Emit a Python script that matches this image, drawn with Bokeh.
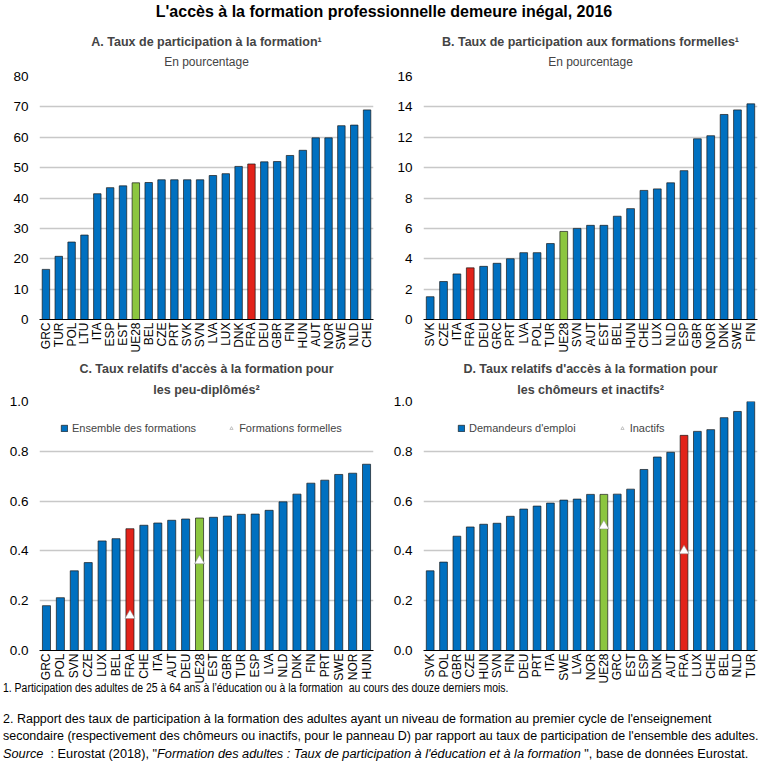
from bokeh.plotting import figure
from bokeh.models import Title, Div, Legend, LegendItem, NumeralTickFormatter, FixedTicker, ColumnDataSource
from bokeh.layouts import column, row
from bokeh.embed import file_html
from bokeh.resources import INLINE
import numpy as np

# ---------------- data ----------------
a_countries = ["GRC", "TUR", "POL", "LTU", "ITA", "ESP", "EST", "UE28", "BEL", "CZE", "PRT", "SVK", "SVN",
               "LVA", "LUX", "DNK", "FRA", "DEU", "GBR", "FIN", "HUN", "AUT", "NOR", "SWE", "NLD", "CHE"]
a_values = [16.5, 20.8, 25.5, 27.8, 41.4, 43.4, 44.0, 45.0, 45.1, 46.0, 46.0, 46.0, 46.0,
            47.4, 48.0, 50.4, 51.2, 51.9, 52.0, 54.0, 55.7, 59.8, 59.8, 63.8, 64.0, 69.0]

b_countries = ["SVK", "CZE", "ITA", "FRA", "DEU", "GRC", "PRT", "LVA", "POL", "TUR", "UE28", "SVN", "AUT",
               "EST", "BEL", "HUN", "CHE", "LUX", "NLD", "ESP", "GBR", "NOR", "DNK", "SWE", "FIN"]
b_values = [1.5, 2.5, 3.0, 3.4, 3.5, 3.7, 4.0, 4.4, 4.4, 5.0, 5.8, 6.0, 6.2,
            6.2, 6.8, 7.3, 8.5, 8.6, 9.0, 9.8, 11.9, 12.1, 13.5, 13.8, 14.2]

c_countries = ["GRC", "POL", "SVN", "CZE", "LUX", "BEL", "FRA", "CHE", "ITA", "AUT", "DEU", "UE28",
               "EST", "GBR", "TUR", "ESP", "LVA", "NLD", "DNK", "FIN", "PRT", "SWE", "NOR", "HUN"]
c_all = [0.180, 0.212, 0.320, 0.353, 0.440, 0.449, 0.489, 0.503, 0.512, 0.523, 0.528, 0.532,
         0.535, 0.540, 0.547, 0.548, 0.563, 0.597, 0.628, 0.672, 0.684, 0.707, 0.712, 0.748]
c_formal = [None, None, None, None, None, None, 0.14, None, None, None, None, 0.36,
            None, None, None, None, None, None, None, None, None, None, None, None]

d_countries = ["SVK", "POL", "GBR", "CZE", "HUN", "SVN", "FIN", "DEU", "PRT", "ITA", "SWE", "LVA", "NOR",
               "UE28", "GRC", "EST", "ESP", "DNK", "AUT", "FRA", "LUX", "CHE", "BEL", "NLD", "TUR"]
d_jobseekers = [0.320, 0.355, 0.459, 0.496, 0.507, 0.511, 0.539, 0.568, 0.580, 0.592, 0.604, 0.608, 0.627,
                0.627, 0.628, 0.648, 0.727, 0.777, 0.796, 0.864, 0.880, 0.887, 0.935, 0.960, 1.000]
d_inactive = [None, None, None, None, None, None, None, None, None, None, None, None, None,
              0.50, None, None, None, None, None, 0.40, None, None, None, None, None]

main_title = "L'accès à la formation professionnelle demeure inégal, 2016"
titles = {
    "A": ["A. Taux de participation à la formation¹", "En pourcentage"],
    "B": ["B. Taux de participation aux formations formelles¹", "En pourcentage"],
    "C": ["C. Taux relatifs d'accès à la formation pour", "les peu-diplômés²"],
    "D": ["D. Taux relatifs d'accès à la formation pour", "les chômeurs et inactifs²"],
}
notes_lines = [
    "1. Participation des adultes de 25 à 64 ans à l’éducation ou à la formation &nbsp;au cours des douze derniers mois.",
    "2. Rapport des taux de participation à la formation des adultes ayant un niveau de formation au premier cycle de l'enseignement",
    "secondaire (respectivement des chômeurs ou inactifs, pour le panneau D) par rapport au taux de participation de l'ensemble des adultes.",
    "<i>Source</i> &nbsp;: Eurostat (2018), \"<i>Formation des adultes : Taux de participation à l'éducation et à la formation</i> \", base de données Eurostat.",
]

# ---------------- style ----------------
FONT = "Liberation Sans"
BLUE = "#0070C0"
RED = "#E2231A"
GREEN = "#8CC63F"
GRID = "#C8C8C8"


def colors_for(cats):
    return [RED if c == "FRA" else GREEN if c == "UE28" else BLUE for c in cats]


def make_panel(cats, vals, ymax, step, fmt, title_lines, subtitle, w, h, left, right, top, bottom,
               tri=None, legend_labels=None, legend_x=0, legend_spacing=30):
    p = figure(x_range=cats, y_range=(0, ymax), width=w, height=h, output_backend="svg",
               toolbar_location=None, min_border_left=left, min_border_right=right,
               min_border_top=top, min_border_bottom=bottom)
    p.outline_line_color = None
    p.background_fill_color = "white"
    src = ColumnDataSource(dict(x=cats, top=vals, color=colors_for(cats)))
    bars = p.vbar(x="x", top="top", width=0.58, source=src, fill_color="color",
                  line_color="#1a1a1a", line_width=0.7)
    tri_r = None
    if tri is not None:
        tv = [np.nan if v is None else v for v in tri]
        tsrc = ColumnDataSource(dict(x=cats, y=tv))
        tri_r = p.scatter(x="x", y="y", source=tsrc, marker="triangle", size=10,
                          fill_color="white", line_color="#8A8A8A", line_width=0.5)
    # axes
    p.xgrid.grid_line_color = None
    p.ygrid.grid_line_color = GRID
    p.ygrid.grid_line_width = 1.3
    p.yaxis.ticker = FixedTicker(ticks=list(np.round(np.arange(0, ymax + step / 2, step), 6)))
    p.yaxis.formatter = NumeralTickFormatter(format=fmt)
    p.yaxis.axis_line_color = None
    p.yaxis.major_tick_line_color = None
    p.yaxis.minor_tick_line_color = None
    p.yaxis.major_tick_out = 0
    p.yaxis.major_label_standoff = 11
    p.yaxis.major_label_text_font = FONT
    p.yaxis.major_label_text_font_size = "13.5px"
    p.yaxis.major_label_text_color = "black"
    p.xaxis.axis_line_color = "black"
    p.xaxis.axis_line_width = 1
    p.xaxis.major_tick_line_color = None
    p.xaxis.major_tick_out = 0
    p.xaxis.major_tick_in = 0
    p.xaxis.major_label_standoff = 3
    p.xaxis.major_label_orientation = np.pi / 2
    p.xaxis.major_label_text_font = FONT
    p.xaxis.major_label_text_font_size = "12px"
    p.xaxis.major_label_text_color = "black"
    p.x_range.range_padding = 0.0
    # titles
    if subtitle is not None:
        p.add_layout(Title(text=subtitle, align="center", text_font=FONT, text_font_size="12px",
                           text_font_style="normal", standoff=16), "above")
        p.add_layout(Title(text=title_lines, align="center", text_font=FONT, text_font_size="12.5px",
                           text_font_style="bold", standoff=-8), "above")
    else:
        p.add_layout(Title(text=title_lines[1], align="center", text_font=FONT, text_font_size="12.5px",
                           text_font_style="bold", standoff=10), "above")
        p.add_layout(Title(text=title_lines[0], align="center", text_font=FONT, text_font_size="12.5px",
                           text_font_style="bold", standoff=0), "above")
    if legend_labels is not None:
        blue_idx = colors_for(cats).index(BLUE)
        items = [LegendItem(label=legend_labels[0], renderers=[bars], index=blue_idx),
                 LegendItem(label=legend_labels[1], renderers=[tri_r])]
        leg = Legend(items=items, orientation="horizontal", location=(legend_x, 216), margin=0, padding=0,
                     spacing=legend_spacing, glyph_width=8, glyph_height=8, label_standoff=4,
                     label_text_font=FONT, label_text_font_size="11px", label_height=10,
                     background_fill_alpha=0, border_line_alpha=0)
        p.add_layout(leg, "center")
    return p


pA = make_panel(a_countries, a_values, 80, 10, "0", titles["A"][0], titles["A"][1],
                384, 327, 39, 11, 46, 38)
pB = make_panel(b_countries, b_values, 16, 2, "0", titles["B"][0], titles["B"][1],
                384, 327, 39, 11, 46, 38)
pC = make_panel(c_countries, c_all, 1.0, 0.2, "0.0", titles["C"], None,
                384, 329, 39, 11, 44, 35, tri=c_formal,
                legend_labels=["Ensemble des formations", "Formations formelles"],
                legend_x=21, legend_spacing=31)
pD = make_panel(d_countries, d_jobseekers, 1.0, 0.2, "0.0", titles["D"], None,
                384, 329, 39, 11, 44, 35, tri=d_inactive,
                legend_labels=["Demandeurs d'emploi", "Inactifs"],
                legend_x=34, legend_spacing=42)

head = Div(text=main_title, width=768, height=30, margin=(0, 0, 0, 0),
           styles={"font-family": "'Liberation Sans',sans-serif",
                   "font-size": "16px", "font-weight": "bold", "text-align": "center",
                   "width": "768px", "line-height": "24px"})

scales = [0.836, 1.0, 0.997, 1.02]
tops = [-6, 13, 0, 0]
parts = []
for txt, sc, mt in zip(notes_lines, scales, tops):
    parts.append(f"<div style='white-space:nowrap;transform:scaleX({sc});transform-origin:0 0;"
                 f"margin-top:{mt}px;margin-left:3px'>{txt}</div>")
notes = Div(text="".join(parts), width=768, height=88, margin=(0, 0, 0, 0),
            styles={"font-family": "'Liberation Sans',sans-serif",
                    "font-size": "12.5px", "line-height": "17.5px", "color": "black"})

layout = column(head, row(pA, pB), row(pC, pD), notes)

with open("out.html", "w") as f:
    f.write(file_html(layout, INLINE))
